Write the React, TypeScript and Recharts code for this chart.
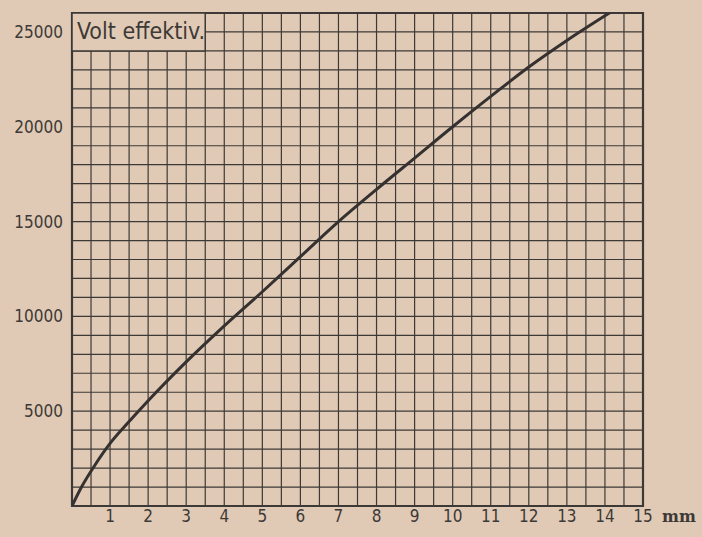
import React from "react";
import { LineChart, Line, XAxis, YAxis, CartesianGrid, ReferenceArea } from "recharts";

// spark gap length (mm) vs effective voltage
const gapMm = [0, 0.25, 0.6, 1, 1.5, 2, 3, 4, 5, 6, 7, 8, 9, 10, 11, 12, 13, 14, 14.3];
const voltEff = [0, 1000, 2150, 3300, 4450, 5550, 7600, 9500, 11300, 13150, 15000, 16700, 18350, 20000, 21600, 23150, 24550, 25850, 26230];

const xTicks = [1, 2, 3, 4, 5, 6, 7, 8, 9, 10, 11, 12, 13, 14, 15];
const yTicks = [5000, 10000, 15000, 20000, 25000];
const xGrid = Array.from({ length: 31 }, (_, i) => i * 0.5);
const yGrid = Array.from({ length: 27 }, (_, i) => i * 1000);

const data = gapMm.map((mm, i) => ({ mm, volt: voltEff[i] }));

const ink = "#3d3936";
const paper = "#e0cab5";
const font = "'DejaVu Sans Condensed', 'Liberation Sans Narrow', 'DejaVu Sans', sans-serif";

function XTick(props: any) {
  const { x, y, payload } = props;
  return (
    <g>
      <text x={x} y={y + 14} textAnchor="middle" fill={ink} fontSize={17} fontFamily={font}>
        {payload.value}
      </text>
      {payload.value === 15 && (
        <text x={x + 19} y={y + 14} fill={ink} fontSize={16} fontFamily="'DejaVu Serif', serif" fontWeight="bold">
          mm
        </text>
      )}
    </g>
  );
}

export default function App() {
  return (
    <div style={{ position: "absolute", left: 0, top: 0, width: 702, height: 537, background: paper }}>
      <LineChart width={702} height={537} data={data} margin={{ top: 13, right: 59, left: 8, bottom: 1 }}>
        <CartesianGrid
          stroke={ink}
          strokeWidth={1.2}
          verticalValues={xGrid}
          horizontalValues={yGrid}
        />
        <XAxis
          dataKey="mm"
          type="number"
          domain={[0, 15]}
          ticks={xTicks}
          height={30}
          axisLine={false}
          tickLine={false}
          tickSize={0}
          tick={<XTick />}
          interval={0}
          allowDataOverflow
        />
        <YAxis
          type="number"
          domain={[0, 26000]}
          ticks={yTicks}
          width={64}
          axisLine={false}
          tickLine={false}
          tickSize={0}
          tickMargin={9}
          interval={0}
          tick={{ fill: ink, fontSize: 17, fontFamily: font }}
          allowDataOverflow
        />
        <ReferenceArea x1={0} x2={15} y1={0} y2={26000} fill="none" stroke={ink} strokeWidth={2.2} />
        <ReferenceArea
          x1={0}
          x2={3.5}
          y1={24000}
          y2={26000}
          fill={paper}
          fillOpacity={1}
          stroke={ink}
          strokeWidth={1.5}
          label={{ value: "Volt effektiv.", position: "insideLeft", fill: ink, fontSize: 23, fontFamily: font, dy: -1 }}
        />
        <Line
          type="monotone"
          dataKey="volt"
          stroke="#353130"
          strokeWidth={3}
          dot={false}
          isAnimationActive={false}
        />
      </LineChart>
    </div>
  );
}
